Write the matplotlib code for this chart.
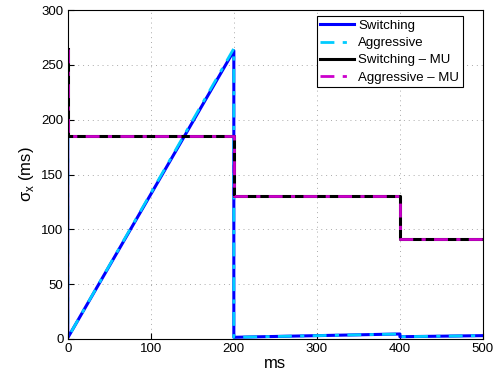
import matplotlib
matplotlib.use('Agg')
import matplotlib.pyplot as plt

plt.rcParams['font.family'] = ['Liberation Sans', 'DejaVu Sans']

# step-like traces (ms)
t_sw = [0, 0, 200, 200, 400, 400, 500]
switching = [185, 1, 263, 1.5, 4.5, 2, 3]
aggressive = [185, 1, 265, 1.5, 4.5, 2, 3]

t_mu = [0, 0, 200, 200, 400, 400, 500]
switching_mu = [265, 185, 185, 130, 130, 91, 91]
aggressive_mu = [265, 185, 185, 130, 130, 91, 91]

fig = plt.figure(figsize=(5.02, 3.77), dpi=100)
ax = fig.add_axes([0.135, 0.101, 0.827, 0.872])

ax.plot(t_sw, switching, color='#0000ff', lw=2.2, label='Switching')
ax.plot(t_sw, aggressive, color='#00ccff', lw=2.0, dashes=(5, 3, 1.5, 3), label='Aggressive')
ax.plot(t_mu, switching_mu, color='black', lw=2.2, label='Switching \u2013 MU')
ax.plot(t_mu, aggressive_mu, color='#cc00cc', lw=2.0, dashes=(5, 3, 1.5, 3),
        label='Aggressive \u2013 MU')

ax.set_xlim(0, 500)
ax.set_ylim(0, 300)
ax.set_xticks([0, 100, 200, 300, 400, 500])
ax.set_yticks([0, 50, 100, 150, 200, 250, 300])
ax.tick_params(direction='in', labelsize=9.5, length=4, pad=3)
ax.grid(True, color='#aaaaaa', lw=0.7, dashes=(1, 4))
ax.set_xlabel('ms', fontsize=12, labelpad=1)
ax.set_ylabel('\u03c3$_\\mathregular{x}$ (ms)', fontsize=12, labelpad=4)

leg = ax.legend(loc='upper right', bbox_to_anchor=(0.951, 0.981), fontsize=9.5,
                frameon=True, fancybox=False, edgecolor='black', framealpha=1,
                handlelength=2.6, borderpad=0.25, labelspacing=0.38, handletextpad=0.3,
                borderaxespad=0)
leg.get_frame().set_linewidth(0.8)

plt.savefig('out.png', dpi=100, facecolor='white')
